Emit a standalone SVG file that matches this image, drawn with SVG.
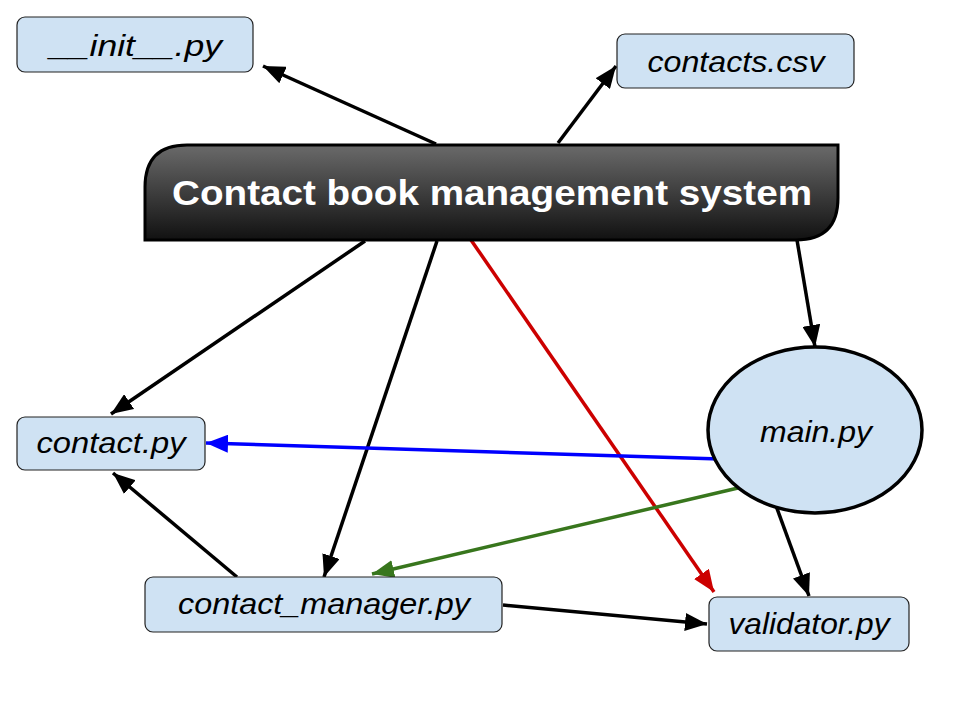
<svg xmlns="http://www.w3.org/2000/svg" width="960" height="720" viewBox="0 0 960 720">
<defs>
<linearGradient id="g" x1="0" y1="0" x2="0" y2="1">
<stop offset="0" stop-color="#6a6a6a"/>
<stop offset="1" stop-color="#111111"/>
</linearGradient>
<marker id="ak" viewBox="0 0 22 18" refX="22" refY="9" markerWidth="22" markerHeight="18" markerUnits="userSpaceOnUse" orient="auto"><path d="M0,0 L22,9 L0,18 Z" fill="#000"/></marker>
<marker id="ar" viewBox="0 0 22 18" refX="22" refY="9" markerWidth="22" markerHeight="18" markerUnits="userSpaceOnUse" orient="auto"><path d="M0,0 L22,9 L0,18 Z" fill="#cc0000"/></marker>
<marker id="ab" viewBox="0 0 22 18" refX="22" refY="9" markerWidth="22" markerHeight="18" markerUnits="userSpaceOnUse" orient="auto"><path d="M0,0 L22,9 L0,18 Z" fill="#0000ff"/></marker>
<marker id="ag" viewBox="0 0 22 18" refX="22" refY="9" markerWidth="22" markerHeight="18" markerUnits="userSpaceOnUse" orient="auto"><path d="M0,0 L22,9 L0,18 Z" fill="#38761d"/></marker>
</defs>
<style>
.box{fill:#cfe2f3;stroke:#222;stroke-width:1.2}
.lbl{font-family:"Liberation Sans","DejaVu Sans",sans-serif;font-style:italic;font-size:29px;fill:#000;text-anchor:middle}
.title{font-family:"Liberation Sans","DejaVu Sans",sans-serif;font-weight:bold;font-size:35px;fill:#fff;text-anchor:middle}
.c{fill:none;stroke-width:3.5}
.k{stroke:#000;marker-end:url(#ak)}
</style>
<g id="connectors">
<line class="c k" x1="436" y1="144" x2="263" y2="66"/>
<line class="c k" x1="558" y1="143" x2="616" y2="66"/>
<line class="c k" x1="797" y1="240" x2="815" y2="347"/>
<line class="c k" x1="365" y1="241" x2="111" y2="414"/>
<line class="c k" x1="437" y1="241" x2="324" y2="577"/>
<line class="c" stroke="#cc0000" marker-end="url(#ar)" x1="471" y1="240" x2="714" y2="592"/>
<line class="c" stroke="#0000ff" marker-end="url(#ab)" x1="720" y1="459" x2="206" y2="443"/>
<line class="c" stroke="#38761d" marker-end="url(#ag)" x1="738" y1="488" x2="372" y2="574"/>
<line class="c k" x1="775" y1="503" x2="809" y2="596"/>
<line class="c k" x1="237" y1="577" x2="113" y2="473"/>
<line class="c k" x1="503" y1="605" x2="707" y2="624"/>
</g>
<g id="init">
<rect class="box" x="17" y="17" width="236" height="55" rx="8"/>
<text class="lbl" x="136" y="56" textLength="172" lengthAdjust="spacingAndGlyphs">__init__.py</text>
</g>
<g id="contacts_csv">
<rect class="box" x="617" y="34" width="237" height="54" rx="8"/>
<text class="lbl" x="736" y="72" textLength="177" lengthAdjust="spacingAndGlyphs">contacts.csv</text>
</g>
<g id="system">
<path d="M145,240 L145,187 Q145,145 187,145 L838,145 L838,198 Q838,240 796,240 Z" fill="url(#g)" stroke="#000" stroke-width="3"/>
<text class="title" x="492" y="205" textLength="640" lengthAdjust="spacingAndGlyphs">Contact book management system</text>
</g>
<g id="main">
<ellipse cx="815" cy="430" rx="107" ry="83" fill="#cfe2f3" stroke="#000" stroke-width="3.5"/>
<text class="lbl" x="816" y="442" textLength="112" lengthAdjust="spacingAndGlyphs">main.py</text>
</g>
<g id="contact">
<rect class="box" x="17" y="417" width="188" height="53" rx="8"/>
<text class="lbl" x="111" y="453" textLength="149" lengthAdjust="spacingAndGlyphs">contact.py</text>
</g>
<g id="contact_manager">
<rect class="box" x="145" y="577" width="357" height="55" rx="8"/>
<text class="lbl" x="324" y="614" textLength="292" lengthAdjust="spacingAndGlyphs">contact_manager.py</text>
</g>
<g id="validator">
<rect class="box" x="709" y="597" width="200" height="54" rx="8"/>
<text class="lbl" x="809" y="634" textLength="161" lengthAdjust="spacingAndGlyphs">validator.py</text>
</g>
</svg>
